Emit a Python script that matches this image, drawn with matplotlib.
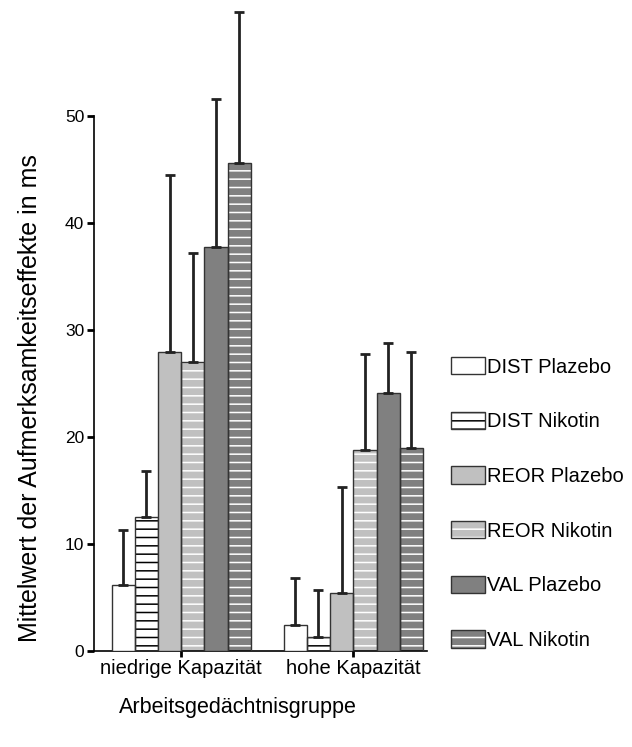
import numpy as np
import matplotlib
matplotlib.use("Agg")
import matplotlib.pyplot as plt
from matplotlib.patches import Patch

plt.rcParams["font.family"] = ["Liberation Sans", "DejaVu Sans"]
plt.rcParams["hatch.linewidth"] = 1.1

groups = ["niedrige Kapazität", "hohe Kapazität"]
series = ["DIST Plazebo", "DIST Nikotin", "REOR Plazebo",
          "REOR Nikotin", "VAL Plazebo", "VAL Nikotin"]
# means per series: [niedrige, hohe]
dist_plazebo = [6.2, 2.4]
dist_nikotin = [12.5, 1.3]
reor_plazebo = [27.9, 5.4]
reor_nikotin = [27.0, 18.8]
val_plazebo = [37.8, 24.1]
val_nikotin = [45.6, 19.0]
# top of the error bars
dist_plazebo_err = [11.3, 6.8]
dist_nikotin_err = [16.8, 5.7]
reor_plazebo_err = [44.5, 15.3]
reor_nikotin_err = [37.2, 27.8]
val_plazebo_err = [51.6, 28.8]
val_nikotin_err = [59.7, 27.9]

means = [dist_plazebo, dist_nikotin, reor_plazebo, reor_nikotin, val_plazebo, val_nikotin]
tops = [dist_plazebo_err, dist_nikotin_err, reor_plazebo_err,
        reor_nikotin_err, val_plazebo_err, val_nikotin_err]

# (face, hatch colour, hatch)
styles = [("white", None, None),
          ("white", "black", "--"),
          ("#c0c0c0", None, None),
          ("#c0c0c0", "white", "--"),
          ("#808080", None, None),
          ("#808080", "white", "--")]

fig = plt.figure(figsize=(6.32, 7.47), dpi=100)
ax = fig.add_axes([94 / 632, 1 - 651 / 747, 333 / 632, 642 / 747])

x = np.arange(len(groups))
w = 0.135
handles = []
for i, (m, t, (fc, hc, h)) in enumerate(zip(means, tops, styles)):
    pos = x + (i - 2.5) * w
    m = np.array(m); t = np.array(t)
    if h:
        ax.bar(pos, m, w, color=fc, edgecolor=hc, hatch=h, linewidth=0, zorder=2)
    fill = ax.bar(pos, m, w, color=fc if not h else "none", edgecolor="#333333",
                  linewidth=1.0, zorder=3)
    ax.errorbar(pos, m, yerr=[np.zeros_like(m), t - m], fmt="none", ecolor="#222222",
                elinewidth=2, capsize=3.8, capthick=2, zorder=4, clip_on=False)
    if h:
        handles.append((Patch(facecolor=fc, edgecolor=hc, hatch=h, linewidth=0),
                        Patch(facecolor="none", edgecolor="#333333", linewidth=1.0)))
    else:
        handles.append(fill.patches[0])

ax.set_xlim(-0.507, 1.428)
ax.set_ylim(0, 60)
ax.spines["top"].set_visible(False)
ax.spines["right"].set_visible(False)
ax.spines["left"].set_bounds(0, 50)
ax.spines["left"].set_linewidth(1.2)
ax.spines["bottom"].set_linewidth(1.2)
ax.set_yticks(np.arange(0, 51, 10))
ax.set_xticks(x)
ax.set_xticklabels(groups)
ax.tick_params(axis="y", labelsize=12.5, length=5, width=2, pad=2)
ax.tick_params(axis="x", labelsize=14.5, length=4, width=2, pad=2)

fig.text(238 / 632, 1 - 707 / 747, "Arbeitsgedächtnisgruppe", fontsize=15.5,
         ha="center", va="center")
fig.text(30 / 632, 1 - 398 / 747, "Mittelwert der Aufmerksamkeitseffekte in ms",
         fontsize=18, rotation=90, ha="center", va="center")

leg = fig.legend(handles, series, loc="upper left",
                 bbox_to_anchor=(451 / 632, 1 - 357 / 747), frameon=False,
                 fontsize=14.5, handlelength=1.69, handleheight=0.95,
                 labelspacing=1.74, handletextpad=0.12, borderpad=0, borderaxespad=0)

fig.savefig("out.png", dpi=100)
